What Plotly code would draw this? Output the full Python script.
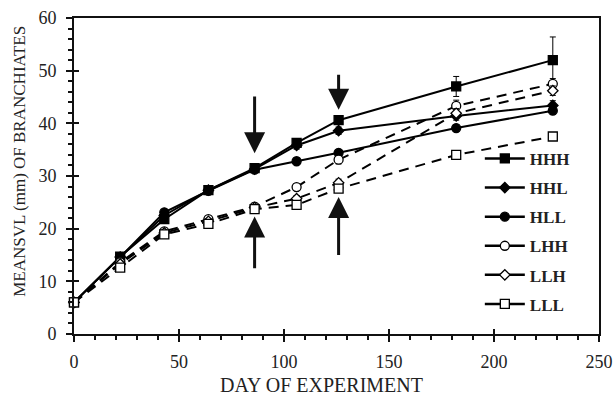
import plotly.graph_objects as go

days = [0, 22, 43, 64, 86, 106, 126, 182, 228]

HHH = [6.0, 14.7, 21.8, 27.3, 31.5, 36.3, 40.6, 47.0, 52.0]
HHL = [6.0, 14.6, 22.5, 27.3, 31.3, 35.8, 38.6, 41.4, 43.4]
HLL = [6.0, 14.6, 23.1, 27.2, 31.2, 32.8, 34.4, 39.1, 42.4]
LHH = [6.0, 13.6, 19.5, 21.8, 24.2, 27.9, 33.1, 43.3, 47.5]
LLH = [6.0, 13.3, 19.2, 21.4, 24.0, 25.7, 28.7, 41.9, 46.2]
LLL = [6.0, 12.6, 18.9, 20.9, 23.7, 24.5, 27.6, 34.0, 37.5]

HHH_err = [0.3, 0.5, 0.5, 0.6, 0.6, 0.7, 0.7, 1.9, 4.4]
HHL_err = [0.3, 0.5, 0.5, 0.6, 0.6, 0.7, 0.7, 0.8, 0.9]
HLL_err = [0.3, 0.5, 0.5, 0.5, 0.5, 0.6, 0.6, 0.6, 0.7]
LHH_err = [0.3, 0.5, 0.5, 0.5, 0.6, 0.6, 0.8, 1.1, 1.0]
LLH_err = [0.3, 0.5, 0.5, 0.5, 0.6, 0.6, 0.7, 0.9, 0.9]
LLL_err = [0.3, 0.5, 0.5, 0.5, 0.6, 0.6, 0.7, 0.6, 0.6]

series_names = ["HHH", "HHL", "HLL", "LHH", "LLH", "LLL"]

# arrows: (day, tail value, head value)
arrow_days = [86, 126, 86, 126]
arrow_tail = [45.4, 49.5, 12.2, 14.7]
arrow_head = [34.3, 42.6, 22.3, 26.0]

x_ticks = [0, 50, 100, 150, 200, 250]
y_ticks = [0, 10, 20, 30, 40, 50, 60]

x_title = "DAY OF EXPERIMENT"
y_title = "MEANSVL (mm) OF BRANCHIATES"

FONT = "Liberation Serif, Times New Roman, serif"

styles = {
    "HHH": dict(symbol="square", fill="black", dash="solid", size=9),
    "HHL": dict(symbol="diamond", fill="black", dash="solid", size=8),
    "HLL": dict(symbol="circle", fill="black", dash="solid", size=9),
    "LHH": dict(symbol="circle", fill="white", dash="dash", size=9),
    "LLH": dict(symbol="diamond", fill="white", dash="dash", size=8),
    "LLL": dict(symbol="square", fill="white", dash="dash", size=9),
}
values = {"HHH": HHH, "HHL": HHL, "HLL": HLL, "LHH": LHH, "LLH": LLH, "LLL": LLL}
errs = {"HHH": HHH_err, "HHL": HHL_err, "HLL": HLL_err, "LHH": LHH_err, "LLH": LLH_err, "LLL": LLL_err}

fig = go.Figure()
for name in series_names:
    st = styles[name]
    marker = dict(symbol=st["symbol"], size=st["size"], color=st["fill"],
                  line=dict(color="black", width=1.3))
    fig.add_trace(go.Scatter(
        x=days, y=values[name], name=name, mode="lines+markers",
        showlegend=False,
        line=dict(color="black", width=2, dash="10px,7px" if st["dash"] == "dash" else "solid"),
        marker=marker,
        error_y=dict(type="data", array=errs[name], visible=True, color="black",
                     thickness=1, width=3),
        cliponaxis=False,
    ))
    # legend sample (solid short line with marker)
    fig.add_trace(go.Scatter(
        x=[None], y=[None], name=name, mode="lines+markers", legendgroup=name,
        line=dict(color="black", width=2.5), marker=marker, showlegend=True,
    ))

for d, t, h in zip(arrow_days, arrow_tail, arrow_head):
    fig.add_annotation(x=d, y=h, ax=d, ay=t, xref="x", yref="y", axref="x", ayref="y",
                       showarrow=True, arrowhead=2, arrowsize=1.4, arrowwidth=3,
                       arrowcolor="#111", text="")

axis_common = dict(showline=True, linewidth=2, linecolor="#111", mirror=True,
                   showgrid=False, zeroline=False, ticks="outside", ticklen=6,
                   tickwidth=2, tickcolor="#111", automargin=False,
                   tickfont=dict(family=FONT, size=18, color="#222"))

fig.update_xaxes(range=[0, 250], tickvals=x_ticks, ticktext=[str(v) for v in x_ticks],
                 minor=dict(ticks="outside", dtick=10, tick0=0, ticklen=4, tickwidth=2, tickcolor="#111"),
                 ticklabelstandoff=4, **axis_common)
fig.update_yaxes(range=[0, 60], tickvals=y_ticks, ticktext=[str(v) for v in y_ticks],
                 minor=dict(ticks="outside", dtick=2, tick0=0, ticklen=4, tickwidth=2, tickcolor="#111"),
                 ticklabelstandoff=6, **axis_common)

# axis titles
fig.add_annotation(text=x_title, xref="paper", yref="paper", x=0.472, y=-0.162,
                   xanchor="center", yanchor="middle", showarrow=False,
                   font=dict(family=FONT, size=20, color="#222"))
fig.add_annotation(text=y_title, xref="paper", yref="paper", x=-0.103, y=0.548,
                   xanchor="center", yanchor="middle", showarrow=False, textangle=-90,
                   font=dict(family=FONT, size=17, color="#222"))

# inner half of crossing major ticks
fig.update_layout(
    xaxis2=dict(overlaying="x", matches="x", range=[0, 250], tickvals=x_ticks, ticks="inside",
                ticklen=5, tickwidth=2, tickcolor="#111", showticklabels=False,
                showgrid=False, zeroline=False, showline=False, automargin=False),
    yaxis2=dict(overlaying="y", matches="y", range=[0, 60], tickvals=y_ticks, ticks="inside",
                ticklen=5, tickwidth=2, tickcolor="#111", showticklabels=False,
                showgrid=False, zeroline=False, showline=False, automargin=False),
)
fig.add_trace(go.Scatter(x=[None], y=[None], xaxis="x2", yaxis="y2", showlegend=False, hoverinfo="skip"))

fig.update_layout(
    width=614, height=407,
    margin=dict(l=74, r=15, t=18, b=73, autoexpand=False),
    paper_bgcolor="white", plot_bgcolor="white",
    showlegend=True,
    legend=dict(x=0.773, y=0.611, xanchor="left", yanchor="top",
                bgcolor="rgba(0,0,0,0)", tracegroupgap=4,
                font=dict(family=FONT, size=17, color="#222", weight="bold"),
                itemwidth=40),
    font=dict(family=FONT),
)

fig.write_html("out.html", config={"displayModeBar": False},
               post_script="document.body.style.margin='0';")
